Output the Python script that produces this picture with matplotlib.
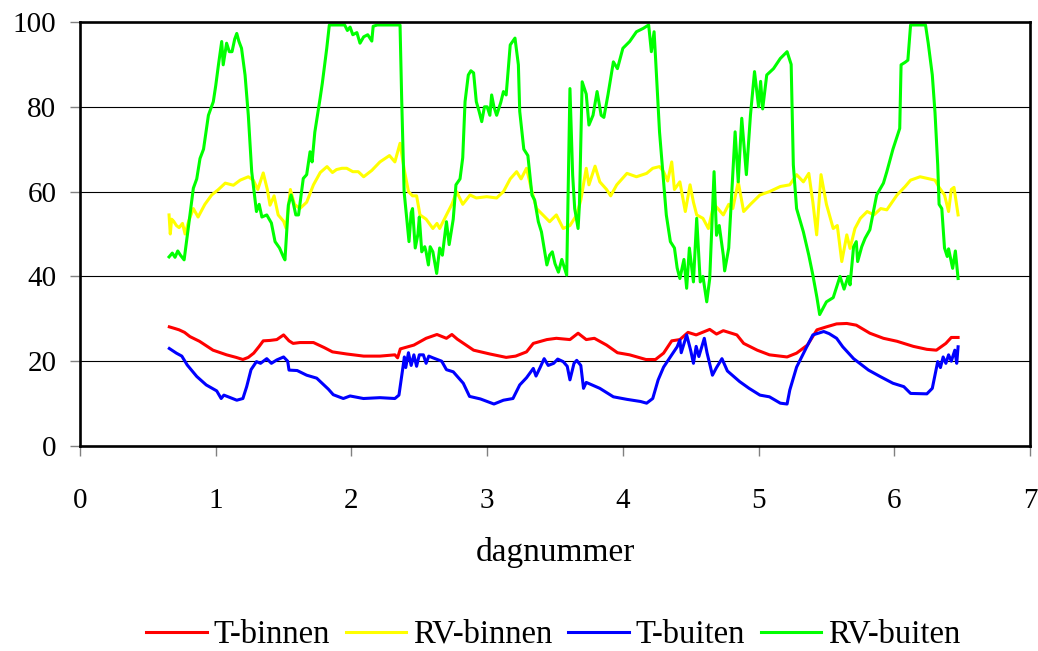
import numpy as np
import matplotlib
matplotlib.use("Agg")
import matplotlib.pyplot as plt

plt.rcParams['font.family'] = ['Liberation Serif', 'DejaVu Serif']

# T-binnen (red)
t_binnen_dag = [0.658, 0.70, 0.73, 0.77, 0.81, 0.88, 0.98, 1.08, 1.15, 1.20, 1.24, 1.28, 1.32, 1.35,
                1.40, 1.45, 1.50, 1.54, 1.57, 1.62, 1.72, 1.80, 1.86, 1.965, 2.09, 2.21, 2.32, 2.34,
                2.36, 2.46, 2.55, 2.63, 2.70, 2.74, 2.78, 2.90, 3.02, 3.14, 3.21, 3.29, 3.34, 3.44,
                3.51, 3.61, 3.67, 3.73, 3.79, 3.88, 3.96, 4.05, 4.17, 4.24, 4.30, 4.36, 4.42, 4.48,
                4.54, 4.64, 4.69, 4.74, 4.84, 4.89, 4.99, 5.08, 5.21, 5.28, 5.36, 5.43, 5.50, 5.575,
                5.65, 5.72, 5.82, 5.92, 6.02, 6.14, 6.24, 6.31, 6.38, 6.42, 6.47]
t_binnen = [28.1, 27.7, 27.4, 26.8, 25.8, 24.7, 22.6, 21.5, 20.9, 20.4, 20.9, 21.9, 23.5, 24.8,
            24.9, 25.1, 26.2, 24.8, 24.2, 24.4, 24.4, 23.2, 22.2, 21.7, 21.2, 21.2, 21.5, 20.8,
            22.9, 23.8, 25.4, 26.3, 25.4, 26.3, 25.2, 22.6, 21.7, 20.9, 21.2, 22.2, 24.2, 25.1,
            25.4, 25.1, 26.6, 25.1, 25.4, 23.8, 22.0, 21.5, 20.4, 20.4, 21.9, 24.8, 25.1, 26.8,
            26.2, 27.5, 26.4, 27.2, 26.2, 24.2, 22.6, 21.5, 21.0, 21.9, 23.8, 27.4, 28.1, 28.8,
            28.9, 28.5, 26.6, 25.4, 24.7, 23.5, 22.8, 22.6, 24.2, 25.6, 25.6]

# RV-binnen (yellow)
rv_binnen_dag = [0.656, 0.665, 0.675, 0.69, 0.71, 0.73, 0.755, 0.774, 0.80, 0.835, 0.87, 0.92, 0.97,
                 1.02, 1.07, 1.13, 1.18, 1.24, 1.277, 1.31, 1.35, 1.38, 1.40, 1.43, 1.46, 1.50, 1.518,
                 1.55, 1.58, 1.62, 1.67, 1.72, 1.77, 1.82, 1.86, 1.89, 1.93, 1.965, 2.01, 2.05, 2.09,
                 2.15, 2.21, 2.28, 2.32, 2.358, 2.39, 2.42, 2.45, 2.48, 2.505, 2.55, 2.60, 2.63, 2.65,
                 2.70, 2.74, 2.775, 2.82, 2.874, 2.92, 2.997, 3.07, 3.12, 3.17, 3.217, 3.25, 3.29,
                 3.33, 3.364, 3.41, 3.46, 3.51, 3.56, 3.61, 3.66, 3.69, 3.73, 3.75, 3.795, 3.83, 3.88,
                 3.91, 3.955, 4.03, 4.10, 4.175, 4.22, 4.27, 4.30, 4.33, 4.36, 4.38, 4.42, 4.46, 4.495,
                 4.52, 4.544, 4.59, 4.63, 4.67, 4.70, 4.74, 4.78, 4.81, 4.85, 4.89, 4.94, 5.01, 5.08,
                 5.16, 5.23, 5.28, 5.33, 5.37, 5.40, 5.428, 5.46, 5.50, 5.55, 5.58, 5.613, 5.65, 5.674,
                 5.71, 5.75, 5.80, 5.85, 5.90, 5.945, 6.02, 6.08, 6.12, 6.19, 6.26, 6.30, 6.33, 6.37,
                 6.40, 6.42, 6.44, 6.47]
rv_binnen = [54.5, 50.0, 53.5, 53.0, 52.0, 51.5, 52.5, 50.0, 53.0, 56.0, 54.0, 57.0, 59.2,
             60.5, 62.0, 61.5, 62.7, 63.5, 62.7, 60.5, 64.4, 60.5, 56.8, 59.0, 54.5, 53.0, 51.4,
             60.5, 57.0, 56.0, 57.5, 61.6, 64.5, 65.9, 64.5, 65.2, 65.5, 65.5, 64.7, 64.7, 63.5,
             65.0, 67.0, 68.5, 67.0, 71.4, 65.0, 60.0, 59.0, 59.0, 54.5, 53.5, 51.3, 52.5, 51.3,
             54.5, 57.0, 60.0, 57.0, 59.2, 58.5, 58.8, 58.5, 60.0, 63.0, 64.7, 63.0, 65.5,
             60.0, 56.0, 54.5, 52.9, 54.5, 51.3, 52.0, 54.5, 58.0, 65.5, 61.6, 66.0, 62.3, 60.5,
             59.0, 61.6, 64.3, 63.5, 64.3, 65.5, 65.9, 64.7, 62.5, 67.0, 60.5, 62.3, 55.3, 61.6,
             57.5, 54.5, 53.7, 51.3, 57.0, 56.0, 54.5, 57.0, 56.0, 62.3, 55.3, 57.0, 59.2, 60.0,
             61.2, 61.6, 64.0, 62.3, 64.3, 57.5, 49.8, 64.0, 57.0, 51.3, 52.0, 43.5, 49.8, 46.6,
             51.3, 53.7, 55.3, 54.5, 56.0, 55.7, 59.2, 61.2, 62.7, 63.5, 63.0, 62.7, 61.0, 59.2,
             55.3, 60.5, 61.0, 54.5]

# T-buiten (blue)
t_buiten_dag = [0.658, 0.71, 0.75, 0.79, 0.86, 0.93, 1.007, 1.04, 1.06, 1.10, 1.155, 1.20, 1.228,
                1.26, 1.30, 1.33, 1.376, 1.41, 1.45, 1.50, 1.53, 1.54, 1.60, 1.67, 1.744, 1.83,
                1.866, 1.94, 1.99, 2.088, 2.21, 2.32, 2.35, 2.38, 2.39, 2.40, 2.42, 2.44, 2.46, 2.48,
                2.50, 2.53, 2.55, 2.57, 2.60, 2.665, 2.70, 2.75, 2.824, 2.87, 2.95, 3.05, 3.12, 3.19,
                3.24, 3.29, 3.34, 3.36, 3.39, 3.42, 3.45, 3.49, 3.52, 3.56, 3.59, 3.61, 3.64, 3.66,
                3.69, 3.71, 3.73, 3.83, 3.93, 4.03, 4.13, 4.175, 4.22, 4.26, 4.30, 4.36, 4.40, 4.42,
                4.43, 4.47, 4.50, 4.52, 4.54, 4.56, 4.60, 4.62, 4.66, 4.69, 4.73, 4.77, 4.86, 4.93,
                5.01, 5.08, 5.16, 5.21, 5.23, 5.28, 5.355, 5.40, 5.48, 5.52, 5.575, 5.62, 5.70, 5.81,
                5.895, 5.99, 6.07, 6.12, 6.24, 6.28, 6.32, 6.34, 6.36, 6.38, 6.40, 6.42, 6.446, 6.46,
                6.47]
t_buiten = [23.0, 21.9, 21.2, 19.1, 16.4, 14.4, 13.0, 11.2, 12.0, 11.5, 10.8, 11.2, 14.0,
            18.0, 19.9, 19.5, 20.6, 19.5, 20.3, 21.0, 20.0, 17.9, 17.8, 16.7, 16.0, 13.4,
            12.1, 11.2, 11.8, 11.2, 11.4, 11.2, 12.0, 18.7, 21.0, 18.5, 22.0, 19.0, 21.5, 18.8,
            21.5, 21.5, 19.5, 21.2, 20.8, 20.0, 18.0, 17.5, 14.8, 11.7, 11.1, 9.9, 10.8, 11.2,
            14.4, 16.1, 18.3, 16.5, 18.5, 20.6, 19.0, 19.5, 20.5, 19.9, 18.8, 15.6, 19.5, 20.2,
            19.0, 13.6, 15.0, 13.6, 11.6, 11.0, 10.5, 10.1, 11.2, 15.6, 18.6, 21.5, 23.4, 25.0,
            22.0, 26.2, 22.5, 19.5, 23.5, 21.1, 25.4, 22.0, 16.7, 18.5, 20.6, 17.7, 15.2, 13.6,
            12.0, 11.6, 10.1, 9.9, 13.2, 18.6, 23.4, 26.2, 27.0, 26.5, 25.4, 23.4, 20.6, 17.9,
            16.4, 14.8, 14.0, 12.4, 12.3, 13.6, 19.9, 18.5, 21.0, 19.5, 21.5, 20.0, 22.6, 19.5,
            23.4]

# RV-buiten (green); flat tops sit just under the 100 line
rv_buiten_dag = [0.656, 0.68, 0.70, 0.72, 0.74, 0.767, 0.80, 0.835, 0.86, 0.884, 0.91, 0.946, 0.982,
                 1.00, 1.02, 1.044, 1.055, 1.08, 1.10, 1.12, 1.14, 1.155, 1.17, 1.19, 1.216, 1.24,
                 1.265, 1.30, 1.32, 1.34, 1.376, 1.41, 1.437, 1.47, 1.50, 1.51, 1.535, 1.555, 1.57,
                 1.59, 1.61, 1.645, 1.67, 1.695, 1.71, 1.73, 1.769, 1.785, 1.818, 1.837, 1.95, 1.97,
                 1.99, 2.01, 2.04, 2.063, 2.09, 2.12, 2.15, 2.16, 2.19, 2.358, 2.37, 2.388, 2.40,
                 2.424, 2.44, 2.45, 2.47, 2.49, 2.50, 2.518, 2.54, 2.55, 2.567, 2.58, 2.60, 2.615,
                 2.628, 2.65, 2.67, 2.70, 2.72, 2.75, 2.77, 2.80, 2.82, 2.837, 2.861, 2.88, 2.90,
                 2.92, 2.94, 2.96, 2.98, 3.00, 3.02, 3.033, 3.05, 3.07, 3.10, 3.12, 3.14, 3.17,
                 3.205, 3.23, 3.24, 3.27, 3.30, 3.33, 3.35, 3.377, 3.40, 3.44, 3.46, 3.48, 3.50,
                 3.525, 3.55, 3.586, 3.61, 3.63, 3.645, 3.67, 3.68, 3.70, 3.73, 3.75, 3.78, 3.81,
                 3.84, 3.86, 3.89, 3.93, 3.96, 4.00, 4.05, 4.10, 4.15, 4.19, 4.21, 4.23, 4.24, 4.27,
                 4.30, 4.32, 4.35, 4.38, 4.40, 4.42, 4.45, 4.47, 4.49, 4.52, 4.544, 4.57, 4.59,
                 4.618, 4.64, 4.672, 4.69, 4.71, 4.74, 4.75, 4.78, 4.80, 4.827, 4.85, 4.876, 4.91,
                 4.94, 4.97, 5.00, 5.015, 5.03, 5.06, 5.11, 5.16, 5.21, 5.24, 5.256, 5.28, 5.33,
                 5.37, 5.40, 5.43, 5.45, 5.50, 5.55, 5.58, 5.60, 5.63, 5.66, 5.674, 5.70, 5.72, 5.73,
                 5.76, 5.785, 5.82, 5.87, 5.92, 5.945, 5.99, 6.04, 6.05, 6.08, 6.10, 6.12, 6.23,
                 6.25, 6.28, 6.30, 6.32, 6.33, 6.35, 6.37, 6.39, 6.40, 6.43, 6.45, 6.47]
rv_buiten = [44.6, 45.5, 44.5, 46.0, 45.0, 43.9, 52.0, 60.8, 63.0, 67.8, 70.0, 78.0, 81.2,
             85.0, 89.9, 95.4, 89.9, 95.0, 93.0, 93.0, 96.0, 97.3, 95.5, 93.8, 87.5, 78.0,
             64.7, 55.3, 57.0, 54.0, 54.5, 52.6, 48.2, 46.7, 44.5, 43.9, 56.8, 59.2, 57.5,
             54.5, 54.5, 63.1, 64.0, 69.4, 67.0, 74.0, 82.0, 85.5, 93.8, 99.3, 99.3, 98.0,
             98.8, 97.0, 97.5, 95.0, 96.5, 97.0, 95.5, 99.0, 99.3, 99.3, 82.0, 60.0, 56.0,
             48.2, 55.0, 56.0, 46.7, 50.0, 54.0, 45.8, 47.0, 45.8, 42.7, 47.0, 45.8, 43.0,
             40.7, 46.7, 45.0, 52.9, 47.5, 53.5, 61.6, 63.0, 68.0, 81.2, 87.5, 88.5, 88.0,
             81.2, 79.0, 76.5, 80.0, 80.0, 78.0, 82.8, 80.0, 78.0, 81.0, 83.6, 82.8, 94.6,
             96.2, 89.9, 78.9, 70.0, 68.5, 59.2, 58.0, 52.9, 50.5, 42.7, 45.0, 45.8, 43.0,
             41.0, 44.0, 40.3, 84.3, 63.9, 56.0, 51.3, 57.0, 85.9, 83.0, 75.7, 78.0, 83.6,
             78.0, 77.5, 82.8, 90.6, 89.0, 93.8, 95.4, 97.7, 98.5, 99.3, 93.0, 97.7, 92.0, 74.1,
             62.3, 54.5, 48.2, 46.7, 42.0, 39.5, 44.0, 37.2, 46.7, 38.7, 53.7, 38.7, 40.0,
             34.0, 39.5, 64.7, 49.7, 52.0, 45.0, 41.3, 46.7, 58.4, 74.1, 62.3, 77.3, 64.0,
             78.0, 88.3, 80.0, 86.0, 79.5, 87.5, 89.0, 91.4, 93.0, 90.0, 66.3, 56.0, 50.5,
             45.0, 40.3, 35.0, 31.0, 34.0, 35.0, 38.0, 40.0, 37.0, 40.0, 38.0, 47.0, 48.2, 43.5,
             47.0, 49.0, 51.0, 59.2, 62.0, 64.7, 70.0, 74.9, 89.9, 90.5, 91.0, 99.3, 99.3,
             95.0, 87.5, 78.6, 66.3, 57.0, 56.0, 46.7, 44.7, 46.5, 41.9, 46.0, 39.5]

reeksen = [
    (t_binnen_dag, t_binnen, "T-binnen", "#ff0000"),
    (rv_binnen_dag, rv_binnen, "RV-binnen", "#ffff00"),
    (t_buiten_dag, t_buiten, "T-buiten", "#0000ff"),
    (rv_buiten_dag, rv_buiten, "RV-buiten", "#00ff00"),
]

fig = plt.figure(figsize=(10.38, 6.51), dpi=100)
ax = fig.add_axes([0.0771, 0.3149, 0.9152, 0.6513])

for y in [20, 40, 60, 80]:
    ax.axhline(y, color="black", lw=0.8, zorder=1)

for dag, waarde, naam, kleur in reeksen:
    ax.plot(dag, waarde, color=kleur, lw=2.2, label=naam, zorder=3)

ax.set_xlim(0, 7)
ax.set_ylim(0, 100)
ax.set_xticks(range(0, 8))
ax.set_yticks(range(0, 101, 20))

for s in ax.spines.values():
    s.set_linewidth(1.9)
    s.set_color("black")
    s.set_zorder(4)

ax.tick_params(axis="both", direction="out", length=7, width=1.0, color="#808080",
               labelsize=21)
ax.tick_params(axis="x", pad=23)
ax.tick_params(axis="y", pad=10)

ax.set_xlabel("dagnummer", fontsize=24, labelpad=17)

fig.legend(loc="center", bbox_to_anchor=(0.533, 0.025), ncol=4, frameon=False,
           fontsize=23.5, handlelength=1.85, handletextpad=0.2, columnspacing=0.5)

fig.savefig("out.png", dpi=100)
